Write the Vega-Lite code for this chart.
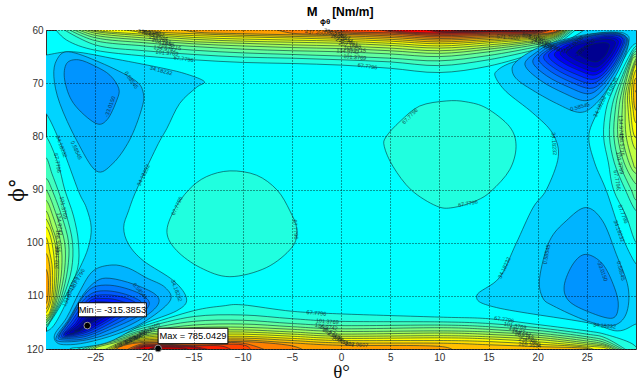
{"$schema":"https://vega.github.io/schema/vega-lite/v6.json","width":590,"height":319,"autosize":"none","padding":{"left":46,"top":30,"right":4,"bottom":33},"background":"white","config":{"view":{"stroke":"#333","fill":"#00ffff"}},
"datasets":{"strips":[
{"c":"T12","t":-29.4,"p":59},{"c":"T12","t":-27.9,"p":61.9},{"c":"T12","t":-25,"p":63.8},{"c":"T12","t":-20,"p":64.9},{"c":"T12","t":-15,"p":65.6},{"c":"T12","t":-10,"p":66.1},{"c":"T12","t":-5,"p":66.3},{"c":"T12","t":0,"p":66.6},{"c":"T12","t":5,"p":67.2},{"c":"T12","t":10,"p":68},{"c":"T12","t":15,"p":66.8},{"c":"T12","t":20,"p":64.2},{"c":"T12","t":22,"p":62.6},{"c":"T12","t":24.5,"p":59},
{"c":"T13","t":-29,"p":59},{"c":"T13","t":-25,"p":62.8},{"c":"T13","t":-20,"p":63.9},{"c":"T13","t":-15,"p":64.6},{"c":"T13","t":-10,"p":65.1},{"c":"T13","t":-5,"p":65.3},{"c":"T13","t":0,"p":65.6},{"c":"T13","t":5,"p":66},{"c":"T13","t":10,"p":66.7},{"c":"T13","t":15,"p":65.6},{"c":"T13","t":20,"p":63.6},{"c":"T13","t":22,"p":62.2},{"c":"T13","t":24.2,"p":59},
{"c":"T14","t":-28.6,"p":59},{"c":"T14","t":-25,"p":62},{"c":"T14","t":-20,"p":63},{"c":"T14","t":-15,"p":63.8},{"c":"T14","t":-10,"p":64.3},{"c":"T14","t":-5,"p":64.6},{"c":"T14","t":0,"p":64.9},{"c":"T14","t":5,"p":65.3},{"c":"T14","t":10,"p":65.8},{"c":"T14","t":15,"p":64.8},{"c":"T14","t":20,"p":63.1},{"c":"T14","t":22,"p":61.9},{"c":"T14","t":24,"p":59},
{"c":"T15","t":-28.2,"p":59},{"c":"T15","t":-25,"p":61.45},{"c":"T15","t":-20,"p":62.4},{"c":"T15","t":-15,"p":63.1},{"c":"T15","t":-10,"p":63.6},{"c":"T15","t":-5,"p":63.9},{"c":"T15","t":0,"p":64.1},{"c":"T15","t":5,"p":64.5},{"c":"T15","t":10,"p":65},{"c":"T15","t":15,"p":64.1},{"c":"T15","t":20,"p":62.7},{"c":"T15","t":22,"p":61.6},{"c":"T15","t":23.8,"p":59},
{"c":"T16","t":-27.8,"p":59},{"c":"T16","t":-25,"p":61},{"c":"T16","t":-20,"p":61.9},{"c":"T16","t":-15,"p":62.6},{"c":"T16","t":-10,"p":63},{"c":"T16","t":-5,"p":63.3},{"c":"T16","t":0,"p":63.5},{"c":"T16","t":5,"p":63.9},{"c":"T16","t":10,"p":64.4},{"c":"T16","t":15,"p":63.6},{"c":"T16","t":20,"p":62.4},{"c":"T16","t":22,"p":61.35},{"c":"T16","t":23.7,"p":59},
{"c":"T17","t":-27.4,"p":59},{"c":"T17","t":-25,"p":60.6},{"c":"T17","t":-20,"p":61.5},{"c":"T17","t":-15,"p":62.2},{"c":"T17","t":-10,"p":62.5},{"c":"T17","t":-5,"p":62.8},{"c":"T17","t":0,"p":63},{"c":"T17","t":5,"p":63.4},{"c":"T17","t":10,"p":63.9},{"c":"T17","t":15,"p":63.2},{"c":"T17","t":20,"p":62.1},{"c":"T17","t":22,"p":61.15},{"c":"T17","t":23.6,"p":59},
{"c":"T18","t":-27,"p":59},{"c":"T18","t":-25,"p":60.3},{"c":"T18","t":-20,"p":61.1},{"c":"T18","t":-15,"p":61.75},{"c":"T18","t":-10,"p":62.1},{"c":"T18","t":-5,"p":62.3},{"c":"T18","t":0,"p":62.5},{"c":"T18","t":5,"p":62.9},{"c":"T18","t":10,"p":63.4},{"c":"T18","t":15,"p":62.8},{"c":"T18","t":20,"p":61.9},{"c":"T18","t":22,"p":61},{"c":"T18","t":23.5,"p":59},
{"c":"T19","t":-26.5,"p":59},{"c":"T19","t":-25,"p":60.1},{"c":"T19","t":-20,"p":60.8},{"c":"T19","t":-15,"p":61.4},{"c":"T19","t":-10,"p":61.7},{"c":"T19","t":-5,"p":61.9},{"c":"T19","t":0,"p":62.1},{"c":"T19","t":5,"p":62.5},{"c":"T19","t":10,"p":63},{"c":"T19","t":15,"p":62.4},{"c":"T19","t":20,"p":61.65},{"c":"T19","t":22,"p":60.85},{"c":"T19","t":23.4,"p":59},
{"c":"T20","t":-25,"p":59},{"c":"T20","t":-20,"p":60.5},{"c":"T20","t":-15,"p":61.05},{"c":"T20","t":-10,"p":61.3},{"c":"T20","t":-5,"p":61.5},{"c":"T20","t":0,"p":61.75},{"c":"T20","t":5,"p":62.1},{"c":"T20","t":10,"p":62.6},{"c":"T20","t":15,"p":62.1},{"c":"T20","t":20,"p":61.45},{"c":"T20","t":22,"p":60.7},{"c":"T20","t":23.3,"p":59},
{"c":"T21","t":-22,"p":59},{"c":"T21","t":-20,"p":60.2},{"c":"T21","t":-15,"p":60.7},{"c":"T21","t":-10,"p":61},{"c":"T21","t":-5,"p":61.2},{"c":"T21","t":0,"p":61.4},{"c":"T21","t":5,"p":61.75},{"c":"T21","t":10,"p":62.25},{"c":"T21","t":15,"p":61.8},{"c":"T21","t":20,"p":61.25},{"c":"T21","t":22,"p":60.55},{"c":"T21","t":23.2,"p":59},
{"c":"T22","t":-18,"p":59},{"c":"T22","t":-15,"p":60.35},{"c":"T22","t":-10,"p":60.7},{"c":"T22","t":-5,"p":60.9},{"c":"T22","t":0,"p":61.1},{"c":"T22","t":5,"p":61.4},{"c":"T22","t":10,"p":61.9},{"c":"T22","t":15,"p":61.5},{"c":"T22","t":20,"p":61.05},{"c":"T22","t":22,"p":60.4},{"c":"T22","t":23.1,"p":59},
{"c":"T23","t":-8,"p":59},{"c":"T23","t":-5,"p":60.6},{"c":"T23","t":0,"p":60.8},{"c":"T23","t":5,"p":61.1},{"c":"T23","t":10,"p":61.6},{"c":"T23","t":15,"p":61.25},{"c":"T23","t":20,"p":60.9},{"c":"T23","t":22,"p":60.3},{"c":"T23","t":23,"p":59},
{"c":"T24","t":-4,"p":59},{"c":"T24","t":0,"p":60.5},{"c":"T24","t":5,"p":60.8},{"c":"T24","t":10,"p":61.3},{"c":"T24","t":15,"p":61},{"c":"T24","t":20,"p":60.75},{"c":"T24","t":22,"p":60.2},{"c":"T24","t":22.8,"p":59},
{"c":"T25","t":-1,"p":59},{"c":"T25","t":0,"p":60.25},{"c":"T25","t":5,"p":60.55},{"c":"T25","t":10,"p":61.05},{"c":"T25","t":15,"p":60.8},{"c":"T25","t":20,"p":60.6},{"c":"T25","t":22.5,"p":59},
{"c":"T26","t":2,"p":59},{"c":"T26","t":5,"p":60.3},{"c":"T26","t":10,"p":60.8},{"c":"T26","t":15,"p":60.6},{"c":"T26","t":20,"p":60.45},{"c":"T26","t":22.2,"p":59},
{"c":"T27","t":4,"p":59},{"c":"T27","t":5,"p":60.1},{"c":"T27","t":10,"p":60.6},{"c":"T27","t":15,"p":60.4},{"c":"T27","t":20,"p":60.3},{"c":"T27","t":21.8,"p":59},
{"c":"T28","t":7,"p":59},{"c":"T28","t":10,"p":60.4},{"c":"T28","t":15,"p":60.25},{"c":"T28","t":20,"p":60.2},{"c":"T28","t":21.3,"p":59},
{"c":"T29","t":8.5,"p":59},{"c":"T29","t":10,"p":60.25},{"c":"T29","t":15,"p":60.15},{"c":"T29","t":20,"p":60.1},{"c":"T29","t":20.8,"p":59},
{"c":"T30","t":9.5,"p":59},{"c":"T30","t":12,"p":60.12},{"c":"T30","t":18,"p":60.1},{"c":"T30","t":19.5,"p":59},
{"c":"B12","t":-27.9,"p":121},{"c":"B12","t":-25,"p":118.6},{"c":"B12","t":-22.5,"p":117},{"c":"B12","t":-20,"p":115.6},{"c":"B12","t":-15,"p":112.8},{"c":"B12","t":-12,"p":111.9},{"c":"B12","t":-10,"p":111.7},{"c":"B12","t":-5,"p":112.9},{"c":"B12","t":0,"p":113.4},{"c":"B12","t":10,"p":114},{"c":"B12","t":15,"p":114.3},{"c":"B12","t":20,"p":115.4},{"c":"B12","t":25,"p":116.6},{"c":"B12","t":27,"p":117.3},{"c":"B12","t":29.6,"p":119},{"c":"B12","t":30.5,"p":121},
{"c":"B13","t":-27.3,"p":121},{"c":"B13","t":-25,"p":118.9},{"c":"B13","t":-22.5,"p":117.45},{"c":"B13","t":-20,"p":116},{"c":"B13","t":-15,"p":113.9},{"c":"B13","t":-10,"p":113.6},{"c":"B13","t":-5,"p":114.3},{"c":"B13","t":0,"p":114.8},{"c":"B13","t":10,"p":114.9},{"c":"B13","t":15,"p":115.2},{"c":"B13","t":20,"p":116},{"c":"B13","t":25,"p":117.2},{"c":"B13","t":27,"p":118},{"c":"B13","t":29.7,"p":121},
{"c":"B14","t":-26.8,"p":121},{"c":"B14","t":-25,"p":119.1},{"c":"B14","t":-22.5,"p":117.8},{"c":"B14","t":-20,"p":116.4},{"c":"B14","t":-15,"p":114.8},{"c":"B14","t":-10,"p":114.6},{"c":"B14","t":-5,"p":115.2},{"c":"B14","t":0,"p":115.6},{"c":"B14","t":10,"p":115.5},{"c":"B14","t":15,"p":115.8},{"c":"B14","t":20,"p":116.5},{"c":"B14","t":25,"p":117.7},{"c":"B14","t":27,"p":118.5},{"c":"B14","t":29.5,"p":121},
{"c":"B15","t":-26.3,"p":121},{"c":"B15","t":-25,"p":119.3},{"c":"B15","t":-22.5,"p":118.1},{"c":"B15","t":-20,"p":116.7},{"c":"B15","t":-15,"p":115.5},{"c":"B15","t":-10,"p":115.3},{"c":"B15","t":-5,"p":115.8},{"c":"B15","t":0,"p":116.2},{"c":"B15","t":10,"p":116},{"c":"B15","t":15,"p":116.3},{"c":"B15","t":20,"p":117},{"c":"B15","t":25,"p":118.1},{"c":"B15","t":27,"p":118.9},{"c":"B15","t":29.3,"p":121},
{"c":"B16","t":-25.8,"p":121},{"c":"B16","t":-25,"p":119.55},{"c":"B16","t":-22.5,"p":118.35},{"c":"B16","t":-20,"p":117},{"c":"B16","t":-15,"p":116},{"c":"B16","t":-10,"p":115.9},{"c":"B16","t":-5,"p":116.3},{"c":"B16","t":0,"p":116.7},{"c":"B16","t":10,"p":116.6},{"c":"B16","t":15,"p":116.8},{"c":"B16","t":20,"p":117.4},{"c":"B16","t":25,"p":118.5},{"c":"B16","t":27,"p":119.2},{"c":"B16","t":29,"p":121},
{"c":"B17","t":-25.3,"p":121},{"c":"B17","t":-25,"p":119.8},{"c":"B17","t":-22.5,"p":118.6},{"c":"B17","t":-20,"p":117.3},{"c":"B17","t":-15,"p":116.6},{"c":"B17","t":-10,"p":116.4},{"c":"B17","t":-5,"p":116.8},{"c":"B17","t":0,"p":117.2},{"c":"B17","t":10,"p":117},{"c":"B17","t":15,"p":117.25},{"c":"B17","t":20,"p":117.8},{"c":"B17","t":25,"p":118.85},{"c":"B17","t":27,"p":119.4},{"c":"B17","t":28.6,"p":121},
{"c":"B18","t":-24.9,"p":121},{"c":"B18","t":-22.5,"p":118.8},{"c":"B18","t":-20,"p":117.55},{"c":"B18","t":-15,"p":116.9},{"c":"B18","t":-10,"p":116.8},{"c":"B18","t":-5,"p":117.2},{"c":"B18","t":0,"p":117.6},{"c":"B18","t":10,"p":117.5},{"c":"B18","t":15,"p":117.7},{"c":"B18","t":20,"p":118.2},{"c":"B18","t":25,"p":119.15},{"c":"B18","t":27,"p":119.6},{"c":"B18","t":28,"p":121},
{"c":"B19","t":-24.5,"p":121},{"c":"B19","t":-22.5,"p":119},{"c":"B19","t":-20,"p":117.8},{"c":"B19","t":-15,"p":117.3},{"c":"B19","t":-10,"p":117.2},{"c":"B19","t":-5,"p":117.6},{"c":"B19","t":0,"p":118},{"c":"B19","t":10,"p":117.9},{"c":"B19","t":15,"p":118.1},{"c":"B19","t":20,"p":118.65},{"c":"B19","t":25,"p":119.45},{"c":"B19","t":27,"p":119.85},{"c":"B19","t":27.2,"p":121},
{"c":"B20","t":-24.1,"p":121},{"c":"B20","t":-22.5,"p":119.15},{"c":"B20","t":-20,"p":118.05},{"c":"B20","t":-15,"p":117.7},{"c":"B20","t":-10,"p":117.6},{"c":"B20","t":-5,"p":118},{"c":"B20","t":0,"p":118.4},{"c":"B20","t":10,"p":118.4},{"c":"B20","t":15,"p":118.6},{"c":"B20","t":20,"p":119.1},{"c":"B20","t":25,"p":119.7},{"c":"B20","t":26.3,"p":121},
{"c":"B21","t":-23.7,"p":121},{"c":"B21","t":-22.5,"p":119.3},{"c":"B21","t":-20,"p":118.3},{"c":"B21","t":-15,"p":118.1},{"c":"B21","t":-10,"p":117.95},{"c":"B21","t":-5,"p":118.4},{"c":"B21","t":0,"p":118.85},{"c":"B21","t":10,"p":118.9},{"c":"B21","t":15,"p":119.2},{"c":"B21","t":20,"p":119.55},{"c":"B21","t":25,"p":119.9},{"c":"B21","t":25.5,"p":121},
{"c":"B22","t":-23.3,"p":121},{"c":"B22","t":-22.5,"p":119.45},{"c":"B22","t":-20,"p":118.55},{"c":"B22","t":-15,"p":118.4},{"c":"B22","t":-10,"p":118.3},{"c":"B22","t":-5,"p":118.85},{"c":"B22","t":0,"p":119.3},{"c":"B22","t":10,"p":119.5},{"c":"B22","t":11.5,"p":121},
{"c":"B23","t":-22.9,"p":121},{"c":"B23","t":-22.5,"p":119.6},{"c":"B23","t":-20,"p":118.75},{"c":"B23","t":-15,"p":118.8},{"c":"B23","t":-10,"p":118.6},{"c":"B23","t":-5,"p":119.4},{"c":"B23","t":-3.2,"p":121},
{"c":"B24","t":-22.5,"p":121},{"c":"B24","t":-20,"p":118.95},{"c":"B24","t":-15,"p":119},{"c":"B24","t":-10,"p":118.9},{"c":"B24","t":-6.7,"p":121},
{"c":"B25","t":-22.1,"p":121},{"c":"B25","t":-20,"p":119.15},{"c":"B25","t":-15,"p":119.3},{"c":"B25","t":-10,"p":119.2},{"c":"B25","t":-9,"p":121},
{"c":"B26","t":-21.7,"p":121},{"c":"B26","t":-20,"p":119.3},{"c":"B26","t":-15,"p":119.4},{"c":"B26","t":-12,"p":119.5},{"c":"B26","t":-10.5,"p":121},
{"c":"B27","t":-21.3,"p":121},{"c":"B27","t":-20,"p":119.45},{"c":"B27","t":-15,"p":119.55},{"c":"B27","t":-12,"p":121},
{"c":"B28","t":-20.8,"p":121},{"c":"B28","t":-20,"p":119.6},{"c":"B28","t":-15,"p":119.7},{"c":"B28","t":-13.2,"p":121},
{"c":"B29","t":-20.3,"p":121},{"c":"B29","t":-19,"p":119.75},{"c":"B29","t":-16,"p":119.8},{"c":"B29","t":-15,"p":121},
{"c":"B30","t":-19.8,"p":121},{"c":"B30","t":-19,"p":119.85},{"c":"B30","t":-16.5,"p":121},
{"c":"L12","t":-31,"p":80},{"c":"L12","t":-30,"p":80},{"c":"L12","t":-28.8,"p":85},{"c":"L12","t":-28.1,"p":90},{"c":"L12","t":-27.2,"p":95},{"c":"L12","t":-26.7,"p":100},{"c":"L12","t":-26.8,"p":105},{"c":"L12","t":-28,"p":110},{"c":"L12","t":-28.9,"p":113},{"c":"L12","t":-29.6,"p":115},{"c":"L12","t":-30,"p":116},{"c":"L12","t":-31,"p":116},
{"c":"L13","t":-31,"p":84},{"c":"L13","t":-30,"p":84},{"c":"L13","t":-29.4,"p":87},{"c":"L13","t":-28.8,"p":90},{"c":"L13","t":-27.9,"p":95},{"c":"L13","t":-27.3,"p":100},{"c":"L13","t":-27.4,"p":105},{"c":"L13","t":-28.2,"p":110},{"c":"L13","t":-29,"p":113},{"c":"L13","t":-29.65,"p":115},{"c":"L13","t":-30,"p":115.7},{"c":"L13","t":-31,"p":115.7},
{"c":"L14","t":-31,"p":87.9},{"c":"L14","t":-30,"p":87.9},{"c":"L14","t":-29.4,"p":90},{"c":"L14","t":-28.4,"p":95},{"c":"L14","t":-27.7,"p":100},{"c":"L14","t":-27.8,"p":105},{"c":"L14","t":-28.4,"p":110},{"c":"L14","t":-29.1,"p":113},{"c":"L14","t":-29.7,"p":115},{"c":"L14","t":-30,"p":115.4},{"c":"L14","t":-31,"p":115.4},
{"c":"L15","t":-31,"p":90},{"c":"L15","t":-30,"p":90},{"c":"L15","t":-28.9,"p":95},{"c":"L15","t":-28.1,"p":100},{"c":"L15","t":-28.1,"p":105},{"c":"L15","t":-28.6,"p":110},{"c":"L15","t":-29.2,"p":113},{"c":"L15","t":-30,"p":115.1},{"c":"L15","t":-31,"p":115.1},
{"c":"L16","t":-31,"p":92},{"c":"L16","t":-30,"p":92},{"c":"L16","t":-29.3,"p":95},{"c":"L16","t":-28.5,"p":100},{"c":"L16","t":-28.4,"p":105},{"c":"L16","t":-28.8,"p":110},{"c":"L16","t":-29.3,"p":113},{"c":"L16","t":-30,"p":114.8},{"c":"L16","t":-31,"p":114.8},
{"c":"L17","t":-31,"p":94},{"c":"L17","t":-30,"p":94},{"c":"L17","t":-29.4,"p":97},{"c":"L17","t":-28.9,"p":100},{"c":"L17","t":-28.7,"p":105},{"c":"L17","t":-28.95,"p":110},{"c":"L17","t":-29.4,"p":113},{"c":"L17","t":-30,"p":114.5},{"c":"L17","t":-31,"p":114.5},
{"c":"L18","t":-31,"p":95.5},{"c":"L18","t":-30,"p":95.5},{"c":"L18","t":-29.1,"p":100},{"c":"L18","t":-28.9,"p":105},{"c":"L18","t":-29.1,"p":110},{"c":"L18","t":-29.5,"p":113},{"c":"L18","t":-30,"p":114.1},{"c":"L18","t":-31,"p":114.1},
{"c":"L19","t":-31,"p":97},{"c":"L19","t":-30,"p":97},{"c":"L19","t":-29.4,"p":100},{"c":"L19","t":-29.1,"p":105},{"c":"L19","t":-29.25,"p":110},{"c":"L19","t":-29.6,"p":113},{"c":"L19","t":-30,"p":113.7},{"c":"L19","t":-31,"p":113.7},
{"c":"L20","t":-31,"p":99},{"c":"L20","t":-30,"p":99},{"c":"L20","t":-29.6,"p":102},{"c":"L20","t":-29.35,"p":105},{"c":"L20","t":-29.4,"p":110},{"c":"L20","t":-30,"p":113.2},{"c":"L20","t":-31,"p":113.2},
{"c":"L21","t":-31,"p":102},{"c":"L21","t":-30,"p":102},{"c":"L21","t":-29.6,"p":105},{"c":"L21","t":-29.6,"p":110},{"c":"L21","t":-30,"p":112.5},{"c":"L21","t":-31,"p":112.5},
{"c":"L22","t":-31,"p":105},{"c":"L22","t":-30,"p":105},{"c":"L22","t":-29.75,"p":108},{"c":"L22","t":-30,"p":111.5},{"c":"L22","t":-31,"p":111.5},
{"c":"R12","t":31,"p":63},{"c":"R12","t":30,"p":63},{"c":"R12","t":29.1,"p":65.65},{"c":"R12","t":27.65,"p":71.3},{"c":"R12","t":26.95,"p":75},{"c":"R12","t":26.7,"p":80},{"c":"R12","t":27.2,"p":85},{"c":"R12","t":27.7,"p":90},{"c":"R12","t":29,"p":95},{"c":"R12","t":30,"p":100},{"c":"R12","t":31,"p":100},
{"c":"R13","t":31,"p":63.5},{"c":"R13","t":30,"p":63.5},{"c":"R13","t":29.3,"p":65.65},{"c":"R13","t":28.05,"p":71.3},{"c":"R13","t":27.5,"p":75},{"c":"R13","t":27.3,"p":80},{"c":"R13","t":27.8,"p":85},{"c":"R13","t":28.9,"p":90},{"c":"R13","t":30,"p":94},{"c":"R13","t":31,"p":94},
{"c":"R14","t":31,"p":64},{"c":"R14","t":30,"p":64},{"c":"R14","t":29.4,"p":65.65},{"c":"R14","t":28.3,"p":71.3},{"c":"R14","t":27.9,"p":75},{"c":"R14","t":27.75,"p":80},{"c":"R14","t":28.3,"p":85},{"c":"R14","t":29.5,"p":90},{"c":"R14","t":30,"p":92},{"c":"R14","t":31,"p":92},
{"c":"R15","t":31,"p":64.5},{"c":"R15","t":30,"p":64.5},{"c":"R15","t":29.5,"p":65.65},{"c":"R15","t":28.6,"p":71.3},{"c":"R15","t":28.25,"p":75},{"c":"R15","t":28.15,"p":80},{"c":"R15","t":28.8,"p":85},{"c":"R15","t":30,"p":89},{"c":"R15","t":31,"p":89},
{"c":"R16","t":31,"p":65},{"c":"R16","t":30,"p":65},{"c":"R16","t":29.55,"p":65.9},{"c":"R16","t":28.8,"p":71.3},{"c":"R16","t":28.6,"p":75},{"c":"R16","t":28.6,"p":80},{"c":"R16","t":29.3,"p":85},{"c":"R16","t":30,"p":87},{"c":"R16","t":31,"p":87},
{"c":"R17","t":31,"p":65.4},{"c":"R17","t":30,"p":65.4},{"c":"R17","t":29,"p":71.3},{"c":"R17","t":28.9,"p":75},{"c":"R17","t":29,"p":80},{"c":"R17","t":29.7,"p":85},{"c":"R17","t":30,"p":86},{"c":"R17","t":31,"p":86},
{"c":"R18","t":31,"p":65.8},{"c":"R18","t":30,"p":65.8},{"c":"R18","t":29.2,"p":71.3},{"c":"R18","t":29.2,"p":75},{"c":"R18","t":29.5,"p":80},{"c":"R18","t":30,"p":82.5},{"c":"R18","t":31,"p":82.5},
{"c":"R19","t":31,"p":66.3},{"c":"R19","t":30,"p":66.3},{"c":"R19","t":29.35,"p":71.3},{"c":"R19","t":29.45,"p":75},{"c":"R19","t":29.85,"p":80},{"c":"R19","t":31,"p":80.5},
{"c":"R20","t":31,"p":67.5},{"c":"R20","t":30,"p":67.5},{"c":"R20","t":29.55,"p":71.3},{"c":"R20","t":29.7,"p":75},{"c":"R20","t":30,"p":77.5},{"c":"R20","t":31,"p":77.5},
{"c":"R21","t":31,"p":69},{"c":"R21","t":30,"p":69},{"c":"R21","t":29.75,"p":71.3},{"c":"R21","t":29.95,"p":75},{"c":"R21","t":31,"p":75.5},
{"c":"R22","t":31,"p":70.5},{"c":"R22","t":29.95,"p":71.5},{"c":"R22","t":31,"p":73},
{"c":"SR","t":25,"p":59},{"c":"SR","t":24.5,"p":60.3},{"c":"SR","t":22,"p":62.9},{"c":"SR","t":19.5,"p":64.9},{"c":"SR","t":17.1,"p":66.3},{"c":"SR","t":15.9,"p":67.6},{"c":"SR","t":15.7,"p":68.8},{"c":"SR","t":16.8,"p":71.6},{"c":"SR","t":19.5,"p":75.6},{"c":"SR","t":21.5,"p":79.4},{"c":"SR","t":22.1,"p":83.8},{"c":"SR","t":20.9,"p":90},{"c":"SR","t":19.5,"p":93.5},{"c":"SR","t":17.8,"p":100.2},{"c":"SR","t":16.1,"p":106.6},{"c":"SR","t":13.8,"p":110},{"c":"SR","t":15.8,"p":112.2},{"c":"SR","t":24.9,"p":115},{"c":"SR","t":28.1,"p":116.6},{"c":"SR","t":30,"p":115.3},{"c":"SR","t":31,"p":115},{"c":"SR","t":31,"p":104.5},{"c":"SR","t":30,"p":104},{"c":"SR","t":28.5,"p":98.4},{"c":"SR","t":27,"p":90.3},{"c":"SR","t":25.8,"p":85},{"c":"SR","t":25.2,"p":80},{"c":"SR","t":26,"p":75.7},{"c":"SR","t":27.1,"p":71.3},{"c":"SR","t":28.7,"p":65.65},{"c":"SR","t":29.8,"p":62.7},{"c":"SR","t":31,"p":62.3},{"c":"SR","t":31,"p":59},
{"c":"SL","t":-31,"p":64.7},{"c":"SL","t":-30,"p":64.7},{"c":"SL","t":-27.2,"p":64.1},{"c":"SL","t":-22.8,"p":65.5},{"c":"SL","t":-18.1,"p":67.2},{"c":"SL","t":-15.7,"p":68.3},{"c":"SL","t":-13.9,"p":69.7},{"c":"SL","t":-14.7,"p":70.8},{"c":"SL","t":-16.4,"p":73.8},{"c":"SL","t":-17.7,"p":78.5},{"c":"SL","t":-18.75,"p":82},{"c":"SL","t":-20.8,"p":90.1},{"c":"SL","t":-21.6,"p":94},{"c":"SL","t":-22.1,"p":97.15},{"c":"SL","t":-21.6,"p":100.3},{"c":"SL","t":-20.1,"p":103.4},{"c":"SL","t":-17,"p":107.2},{"c":"SL","t":-15.7,"p":110.6},{"c":"SL","t":-16.7,"p":112.8},{"c":"SL","t":-20.1,"p":115.3},{"c":"SL","t":-23.5,"p":118.6},{"c":"SL","t":-26,"p":119.6},{"c":"SL","t":-27.5,"p":119.9},{"c":"SL","t":-28,"p":121},{"c":"SL","t":-31,"p":121},{"c":"SL","t":-31,"p":116.7},{"c":"SL","t":-30,"p":116.7},{"c":"SL","t":-29.1,"p":115.3},{"c":"SL","t":-27.9,"p":111},{"c":"SL","t":-27.6,"p":108.4},{"c":"SL","t":-26.55,"p":104.7},{"c":"SL","t":-25.7,"p":100.9},{"c":"SL","t":-25.4,"p":97.15},{"c":"SL","t":-25.9,"p":93.4},{"c":"SL","t":-26.7,"p":90.3},{"c":"SL","t":-28.4,"p":81.9},{"c":"SL","t":-30,"p":75.7},{"c":"SL","t":-31,"p":75.7}
],"basins":[
{"c":"I1","t":-15.5,"p":90.1},{"c":"I1","t":-13.7,"p":87.6},{"c":"I1","t":-11.3,"p":86.5},{"c":"I1","t":-8.6,"p":87.3},{"c":"I1","t":-6.5,"p":90.1},{"c":"I1","t":-5.2,"p":94},{"c":"I1","t":-4.5,"p":97.5},{"c":"I1","t":-5,"p":100.9},{"c":"I1","t":-7.6,"p":104.7},{"c":"I1","t":-11.3,"p":106.4},{"c":"I1","t":-14.3,"p":104.7},{"c":"I1","t":-16.7,"p":101.5},{"c":"I1","t":-17.7,"p":98.1},{"c":"I1","t":-17,"p":94},
{"c":"I2","t":10.7,"p":73.35},{"c":"I2","t":8,"p":74.3},{"c":"I2","t":6,"p":77.2},{"c":"I2","t":4.6,"p":80.05},{"c":"I2","t":4.4,"p":81.9},{"c":"I2","t":5.3,"p":85.7},{"c":"I2","t":7.15,"p":90.1},{"c":"I2","t":9.7,"p":93.1},{"c":"I2","t":11.4,"p":93.4},{"c":"I2","t":13.75,"p":92.1},{"c":"I2","t":15.3,"p":90.26},{"c":"I2","t":17.15,"p":86.3},{"c":"I2","t":17.8,"p":81.9},{"c":"I2","t":17.15,"p":78.2},{"c":"I2","t":14.8,"p":74.7},{"c":"I2","t":12.7,"p":73.5},
{"c":"A10","t":17.4,"p":67.5},{"c":"A10","t":17.8,"p":69.1},{"c":"A10","t":19.2,"p":71},{"c":"A10","t":21.9,"p":73.8},{"c":"A10","t":24.3,"p":75.5},{"c":"A10","t":25.95,"p":73.8},{"c":"A10","t":27.6,"p":69.7},{"c":"A10","t":28.8,"p":65.3},{"c":"A10","t":29.3,"p":61.9},{"c":"A10","t":29,"p":60.8},{"c":"A10","t":28,"p":60.4},{"c":"A10","t":25.3,"p":60.75},{"c":"A10","t":22.9,"p":61.7},{"c":"A10","t":20.5,"p":62.95},{"c":"A10","t":18.7,"p":64.7},{"c":"A10","t":17.65,"p":66.3},
{"c":"A9","t":18.7,"p":66.5},{"c":"A9","t":20.3,"p":69.5},{"c":"A9","t":22.7,"p":71.9},{"c":"A9","t":24.8,"p":73.3},{"c":"A9","t":26.3,"p":71.9},{"c":"A9","t":27.7,"p":68.4},{"c":"A9","t":28.8,"p":64.6},{"c":"A9","t":29.2,"p":61.8},{"c":"A9","t":28,"p":60.5},{"c":"A9","t":25.6,"p":60.75},{"c":"A9","t":21.4,"p":62.7},{"c":"A9","t":19.9,"p":64.15},
{"c":"A8","t":19.5,"p":66},{"c":"A8","t":20.9,"p":68.6},{"c":"A8","t":23.1,"p":70.7},{"c":"A8","t":25.1,"p":72},{"c":"A8","t":26.4,"p":70.7},{"c":"A8","t":27.7,"p":67.7},{"c":"A8","t":28.7,"p":64.25},{"c":"A8","t":29.1,"p":61.7},{"c":"A8","t":28.05,"p":60.6},{"c":"A8","t":25.8,"p":60.85},{"c":"A8","t":22,"p":62.5},{"c":"A8","t":20.55,"p":63.85},
{"c":"A7","t":20.1,"p":65.5},{"c":"A7","t":21.4,"p":67.9},{"c":"A7","t":23.5,"p":69.9},{"c":"A7","t":25.3,"p":71},{"c":"A7","t":26.5,"p":69.9},{"c":"A7","t":27.7,"p":67.1},{"c":"A7","t":28.65,"p":64},{"c":"A7","t":29,"p":61.7},{"c":"A7","t":28,"p":60.7},{"c":"A7","t":26,"p":60.9},{"c":"A7","t":22.4,"p":62.45},{"c":"A7","t":21.1,"p":63.65},
{"c":"A6","t":20.6,"p":65.2},{"c":"A6","t":21.8,"p":67.3},{"c":"A6","t":23.7,"p":69.1},{"c":"A6","t":25.4,"p":70.1},{"c":"A6","t":26.5,"p":69.1},{"c":"A6","t":27.7,"p":66.6},{"c":"A6","t":28.5,"p":63.8},{"c":"A6","t":28.85,"p":61.8},{"c":"A6","t":27.9,"p":60.85},{"c":"A6","t":26,"p":61},{"c":"A6","t":22.7,"p":62.4},{"c":"A6","t":21.5,"p":63.5},
{"c":"A5","t":21.1,"p":64.9},{"c":"A5","t":22.2,"p":66.8},{"c":"A5","t":24,"p":68.4},{"c":"A5","t":25.5,"p":69.3},{"c":"A5","t":26.6,"p":68.4},{"c":"A5","t":27.6,"p":66.1},{"c":"A5","t":28.4,"p":63.7},{"c":"A5","t":28.7,"p":61.8},{"c":"A5","t":27.9,"p":61},{"c":"A5","t":26.1,"p":61.2},{"c":"A5","t":23.1,"p":62.4},{"c":"A5","t":21.9,"p":63.4},
{"c":"A4","t":21.7,"p":64.7},{"c":"A4","t":22.7,"p":66.3},{"c":"A4","t":24.3,"p":67.7},{"c":"A4","t":25.6,"p":68.5},{"c":"A4","t":26.6,"p":67.7},{"c":"A4","t":27.5,"p":65.7},{"c":"A4","t":28.2,"p":63.6},{"c":"A4","t":28.5,"p":62},{"c":"A4","t":27.75,"p":61.25},{"c":"A4","t":26.2,"p":61.4},{"c":"A4","t":23.5,"p":62.5},{"c":"A4","t":22.45,"p":63.3},
{"c":"A3","t":22.3,"p":64.5},{"c":"A3","t":23.2,"p":65.9},{"c":"A3","t":24.5,"p":67.1},{"c":"A3","t":25.7,"p":67.8},{"c":"A3","t":26.5,"p":67.1},{"c":"A3","t":27.35,"p":65.4},{"c":"A3","t":27.95,"p":63.5},{"c":"A3","t":28.2,"p":62.1},{"c":"A3","t":27.55,"p":61.5},{"c":"A3","t":26.2,"p":61.65},{"c":"A3","t":23.8,"p":62.6},{"c":"A3","t":22.95,"p":63.3},
{"c":"A2","t":22.9,"p":64.3},{"c":"A2","t":23.65,"p":65.4},{"c":"A2","t":24.8,"p":66.4},{"c":"A2","t":25.8,"p":67},{"c":"A2","t":26.5,"p":66.4},{"c":"A2","t":27.2,"p":65},{"c":"A2","t":27.7,"p":63.5},{"c":"A2","t":27.9,"p":62.3},{"c":"A2","t":27.35,"p":61.8},{"c":"A2","t":26.2,"p":61.9},{"c":"A2","t":24.2,"p":62.7},{"c":"A2","t":23.45,"p":63.3},
{"c":"A1","t":24,"p":64.2},{"c":"A1","t":24.5,"p":65},{"c":"A1","t":25.2,"p":65.7},{"c":"A1","t":25.9,"p":66},{"c":"A1","t":26.4,"p":65.6},{"c":"A1","t":26.9,"p":64.7},{"c":"A1","t":27.2,"p":63.6},{"c":"A1","t":27.3,"p":62.8},{"c":"A1","t":26.9,"p":62.4},{"c":"A1","t":26,"p":62.5},{"c":"A1","t":25,"p":63},{"c":"A1","t":24.4,"p":63.5},
{"c":"U10","t":-27.7,"p":64.1},{"c":"U10","t":-28.9,"p":65.6},{"c":"U10","t":-29.2,"p":68.8},{"c":"U10","t":-28.6,"p":73.8},{"c":"U10","t":-26.9,"p":80.7},{"c":"U10","t":-24.9,"p":86.5},{"c":"U10","t":-23.2,"p":85.1},{"c":"U10","t":-21.5,"p":80.7},{"c":"U10","t":-20.3,"p":75},{"c":"U10","t":-20.1,"p":71.9},{"c":"U10","t":-21,"p":69.4},{"c":"U10","t":-24.5,"p":66.1},
{"c":"U9","t":-26.7,"p":65.6},{"c":"U9","t":-27.9,"p":66.3},{"c":"U9","t":-28.1,"p":69.4},{"c":"U9","t":-27.2,"p":73.8},{"c":"U9","t":-25,"p":77.5},{"c":"U9","t":-23.8,"p":76.9},{"c":"U9","t":-22.8,"p":73.2},{"c":"U9","t":-22.6,"p":71},{"c":"U9","t":-23.5,"p":68.5},{"c":"U9","t":-25,"p":66.8},
{"c":"V10","t":24.9,"p":93.4},{"c":"V10","t":22.9,"p":95.9},{"c":"V10","t":21.2,"p":99.7},{"c":"V10","t":20.2,"p":106.6},{"c":"V10","t":20.5,"p":110.3},{"c":"V10","t":21.6,"p":111.9},{"c":"V10","t":25,"p":114.7},{"c":"V10","t":27.6,"p":115.6},{"c":"V10","t":29,"p":113.4},{"c":"V10","t":29.2,"p":108.4},{"c":"V10","t":28,"p":102.2},{"c":"V10","t":26.6,"p":95.9},
{"c":"V9","t":24.9,"p":102.2},{"c":"V9","t":23.6,"p":104},{"c":"V9","t":22.7,"p":108.1},{"c":"V9","t":23.2,"p":111},{"c":"V9","t":25.3,"p":113.1},{"c":"V9","t":27.6,"p":114.2},{"c":"V9","t":28.2,"p":111.9},{"c":"V9","t":27.8,"p":108.4},{"c":"V9","t":26.6,"p":104},
{"c":"W10","t":-23.3,"p":104.2},{"c":"W10","t":-25.2,"p":105.3},{"c":"W10","t":-26.55,"p":109.1},{"c":"W10","t":-27.9,"p":114.1},{"c":"W10","t":-29.1,"p":117.2},{"c":"W10","t":-28.9,"p":118.8},{"c":"W10","t":-27.9,"p":119.2},{"c":"W10","t":-25.9,"p":118.8},{"c":"W10","t":-22.8,"p":117.2},{"c":"W10","t":-20.1,"p":115},{"c":"W10","t":-17.4,"p":111},{"c":"W10","t":-17.9,"p":108.4},{"c":"W10","t":-19.8,"p":106.6},{"c":"W10","t":-21.6,"p":104.8},
{"c":"W9","t":-23.5,"p":106.7},{"c":"W9","t":-24.85,"p":107.2},{"c":"W9","t":-26.2,"p":109.7},{"c":"W9","t":-27.7,"p":114.4},{"c":"W9","t":-28.9,"p":117.5},{"c":"W9","t":-28.6,"p":118.6},{"c":"W9","t":-25.9,"p":118.3},{"c":"W9","t":-22.8,"p":116.6},{"c":"W9","t":-20.1,"p":114.1},{"c":"W9","t":-18.6,"p":111.6},{"c":"W9","t":-18.9,"p":109.7},{"c":"W9","t":-21.1,"p":107.8},
{"c":"W8","t":-23.5,"p":108},{"c":"W8","t":-25.2,"p":108.4},{"c":"W8","t":-26.4,"p":110.6},{"c":"W8","t":-27.7,"p":114.7},{"c":"W8","t":-28.75,"p":117.6},{"c":"W8","t":-28.2,"p":118.3},{"c":"W8","t":-25.9,"p":118},{"c":"W8","t":-23.2,"p":116.1},{"c":"W8","t":-20.6,"p":113.8},{"c":"W8","t":-19.5,"p":111.6},{"c":"W8","t":-20.1,"p":110},{"c":"W8","t":-21.6,"p":108.75},
{"c":"W7","t":-23.8,"p":109.06},{"c":"W7","t":-25.2,"p":109.4},{"c":"W7","t":-26.4,"p":111.25},{"c":"W7","t":-27.6,"p":114.7},{"c":"W7","t":-28.6,"p":117.4},{"c":"W7","t":-28.1,"p":118},{"c":"W7","t":-25.9,"p":117.6},{"c":"W7","t":-23.3,"p":115.6},{"c":"W7","t":-21.1,"p":113.4},{"c":"W7","t":-20.2,"p":111.6},{"c":"W7","t":-20.96,"p":110.4},{"c":"W7","t":-22.3,"p":109.5},
{"c":"W6","t":-24,"p":109.8},{"c":"W6","t":-25.2,"p":110.1},{"c":"W6","t":-26.2,"p":111.6},{"c":"W6","t":-27.4,"p":114.8},{"c":"W6","t":-28.4,"p":117.3},{"c":"W6","t":-27.9,"p":117.8},{"c":"W6","t":-25.8,"p":117.2},{"c":"W6","t":-23.5,"p":115.2},{"c":"W6","t":-21.6,"p":113.1},{"c":"W6","t":-20.8,"p":111.6},{"c":"W6","t":-21.6,"p":110.6},{"c":"W6","t":-22.8,"p":110},
{"c":"W5","t":-24.2,"p":110.5},{"c":"W5","t":-25.2,"p":110.6},{"c":"W5","t":-26,"p":111.9},{"c":"W5","t":-27.2,"p":115},{"c":"W5","t":-28.2,"p":117.2},{"c":"W5","t":-27.7,"p":117.6},{"c":"W5","t":-25.8,"p":116.8},{"c":"W5","t":-23.7,"p":114.8},{"c":"W5","t":-22.1,"p":112.8},{"c":"W5","t":-21.4,"p":111.7},{"c":"W5","t":-22.2,"p":111.1},{"c":"W5","t":-23.2,"p":110.6},
{"c":"W4","t":-24.35,"p":111.1},{"c":"W4","t":-25.1,"p":111.25},{"c":"W4","t":-26,"p":112.3},{"c":"W4","t":-27,"p":115.2},{"c":"W4","t":-28.1,"p":117.1},{"c":"W4","t":-27.6,"p":117.4},{"c":"W4","t":-25.8,"p":116.5},{"c":"W4","t":-23.8,"p":114.45},{"c":"W4","t":-22.55,"p":112.7},{"c":"W4","t":-22.1,"p":111.9},{"c":"W4","t":-22.8,"p":111.4},{"c":"W4","t":-23.6,"p":111.2},
{"c":"W3","t":-24.5,"p":111.9},{"c":"W3","t":-25.1,"p":112},{"c":"W3","t":-25.8,"p":112.8},{"c":"W3","t":-26.9,"p":115.45},{"c":"W3","t":-27.9,"p":117},{"c":"W3","t":-27.4,"p":117.2},{"c":"W3","t":-25.8,"p":116.1},{"c":"W3","t":-24,"p":114.1},{"c":"W3","t":-23,"p":112.7},{"c":"W3","t":-22.75,"p":112.2},{"c":"W3","t":-23.3,"p":111.95},{"c":"W3","t":-23.9,"p":111.9},
{"c":"W2","t":-24.7,"p":112.7},{"c":"W2","t":-25.5,"p":113.3},{"c":"W2","t":-26.7,"p":115.6},{"c":"W2","t":-27.6,"p":116.8},{"c":"W2","t":-27.2,"p":117},{"c":"W2","t":-25.8,"p":115.7},{"c":"W2","t":-24.2,"p":113.8},{"c":"W2","t":-23.4,"p":112.8},{"c":"W2","t":-23.9,"p":112.6},
{"c":"W1","t":-25,"p":113.8},{"c":"W1","t":-25.9,"p":114.4},{"c":"W1","t":-26.6,"p":116},{"c":"W1","t":-27.1,"p":116.6},{"c":"W1","t":-26.55,"p":116.5},{"c":"W1","t":-25.7,"p":115.2},{"c":"W1","t":-24.35,"p":114},{"c":"W1","t":-24.35,"p":113.4}
],"labels":[
{"t":-16,"p":65.4,"s":"67.7796","a":8},{"t":-18.3,"p":67.6,"s":"34.18232","a":15},{"t":-21.3,"p":69.4,"s":"0.58545","a":55},{"t":-23.5,"p":74.4,"s":"-33.0150","a":-70},{"t":-26.9,"p":82.6,"s":"0.58545","a":65},{"t":-28.4,"p":81.9,"s":"34.18232","a":70},{"t":-28.8,"p":85,"s":"67.7796","a":80},{"t":-20.1,"p":87.3,"s":"34.18232","a":-65},
{"t":-17.7,"p":64.3,"s":"101.3769","a":5},{"t":-17.9,"p":63.5,"s":"134.9742","a":8},{"t":-17.4,"p":63,"s":"168.5715","a":12},{"t":-18.1,"p":62.3,"s":"202.1688","a":15},{"t":-18.4,"p":61.75,"s":"235.7661","a":15},{"t":-18.75,"p":61.1,"s":"269.3634","a":15},{"t":-19.1,"p":60.6,"s":"302.9607","a":10},{"t":-19.5,"p":60.4,"s":"336.5580","a":5},
{"t":2.7,"p":66.8,"s":"67.7796","a":8},{"t":1.4,"p":65.1,"s":"101.3769","a":5},{"t":0.7,"p":64,"s":"134.9742","a":5},{"t":1.4,"p":63.6,"s":"168.5715","a":8},{"t":0.9,"p":62.8,"s":"202.1688","a":10},{"t":0.6,"p":62.2,"s":"235.7661","a":15},{"t":0.1,"p":61.6,"s":"269.3634","a":15},{"t":-0.2,"p":61,"s":"302.9607","a":15},{"t":-0.6,"p":60.5,"s":"336.5580","a":15},{"t":-2.5,"p":60.4,"s":"437.3500","a":3},
{"t":17,"p":61.3,"s":"571.7000","a":3},{"t":19.6,"p":61.2,"s":"538.1000","a":10},{"t":20.2,"p":61.8,"s":"504.5000","a":15},{"t":20.8,"p":62.4,"s":"470.9000","a":15},{"t":21.2,"p":63,"s":"437.3500","a":15},{"t":21.7,"p":63.5,"s":"403.7500","a":10},{"t":20.4,"p":62.6,"s":"370.1553","a":15},
{"t":23.6,"p":62.8,"s":"-201.0000","a":-40},{"t":24.8,"p":63.4,"s":"-234.6000","a":-40},{"t":24.3,"p":74.4,"s":"0.58545","a":-15},{"t":26.3,"p":74.4,"s":"34.18232","a":-65},{"t":27.6,"p":70.6,"s":"0.58545","a":-65},
{"t":28.5,"p":78.2,"s":"134.9742","a":88},{"t":28.6,"p":81.5,"s":"168.5715","a":88},{"t":28.4,"p":85,"s":"101.3769","a":80},{"t":28.1,"p":88.2,"s":"67.7796","a":80},{"t":28.7,"p":94.6,"s":"67.7796","a":70},{"t":28.3,"p":97.8,"s":"34.18232","a":70},{"t":28.5,"p":105.3,"s":"0.58545","a":75},{"t":26.6,"p":105.3,"s":"-33.0150","a":70},{"t":20.9,"p":102.2,"s":"0.58545","a":-80},{"t":16.6,"p":104.7,"s":"34.18232","a":-65},{"t":26.8,"p":115.6,"s":"34.18232","a":5},{"t":21.7,"p":81.4,"s":"34.18232","a":85},
{"t":-16.7,"p":93.1,"s":"67.7796","a":-65},{"t":-4.6,"p":97.5,"s":"67.7796","a":85},{"t":7,"p":76.2,"s":"67.7796","a":-45},{"t":12.9,"p":92.6,"s":"67.7796","a":-10},
{"t":-2.5,"p":113.2,"s":"67.7796","a":5},{"t":-1.4,"p":114.8,"s":"101.3769","a":5},{"t":-1.5,"p":115.8,"s":"134.9742","a":10},{"t":-1.1,"p":116.7,"s":"168.5715","a":30},{"t":-0.8,"p":117.3,"s":"202.1688","a":30},{"t":-0.3,"p":118,"s":"235.7661","a":30},{"t":0.2,"p":118.6,"s":"269.3634","a":20},{"t":1.6,"p":119.1,"s":"302.9607","a":5},
{"t":16.6,"p":114.4,"s":"67.7796","a":8},{"t":17.7,"p":115.6,"s":"101.3769","a":10},{"t":18.2,"p":116.6,"s":"134.9742","a":20},{"t":18.5,"p":117.2,"s":"168.5715","a":20},{"t":18.8,"p":117.8,"s":"202.1688","a":20},{"t":19.2,"p":118.6,"s":"235.7661","a":15},{"t":19.2,"p":119.2,"s":"269.3634","a":5},
{"t":-19.5,"p":116.2,"s":"101.3769","a":-25},{"t":-20,"p":117,"s":"168.5715","a":-25},{"t":-20.5,"p":117.4,"s":"235.7661","a":-25},{"t":-21,"p":118,"s":"302.9607","a":-25},{"t":-21.5,"p":118.4,"s":"370.1553","a":-25},{"t":-22,"p":118.7,"s":"437.3500","a":-25},{"t":-16.7,"p":109,"s":"34.18232","a":70},{"t":-20.4,"p":109.1,"s":"0.58545","a":50},
{"t":-28.2,"p":93.4,"s":"101.3769","a":80},{"t":-28.6,"p":96.5,"s":"134.9742","a":85},{"t":-28.75,"p":99.7,"s":"168.5715","a":88},{"t":-28.9,"p":102.8,"s":"202.1688","a":-88},{"t":-26.7,"p":106.6,"s":"67.7796","a":-60},{"t":-27.4,"p":108.4,"s":"101.3769","a":-65},{"t":-27.7,"p":110,"s":"134.9742","a":-65}
],"boxes":[{"x1":-26.7,"x2":-19.8,"y1":111.3,"y2":113.95,"s":"Min = -315.3853","xm":-23.25,"ym":112.65},{"x1":-18.6,"x2":-11.5,"y1":116.1,"y2":119,"s":"Max = 785.0429","xm":-15.05,"ym":117.55}],"pts":[{"t":-25.8,"p":115.6,"k":"Min"},{"t":-18.6,"p":119.9,"k":"Max"}]},
"layer":[
{"data":{"name":"strips"},"mark":{"type":"line","order":false,"clip":true,"interpolate":"cardinal","stroke":"#06303a","strokeWidth":0.7,"strokeOpacity":0.85},
"encoding":{"x":{"field":"t","type":"quantitative","scale":{"domain":[-30,30],"nice":false,"zero":false},"axis":{"values":[-25,-20,-15,-10,-5,0,5,10,15,20,25],"grid":true,"gridColor":"#000","gridDash":[1,2],"gridOpacity":1,"gridWidth":0.8,"ticks":false,"domain":false,"labelFont":"Liberation Sans","labelFontSize":10,"labelColor":"#333","labelPadding":3,"labelFlush":false,"title":"θ°","titleFont":"Liberation Serif","titleFontWeight":"normal","titleFontSize":19,"titleColor":"#111","titlePadding":0,"zindex":1,"format":"d"}},
"y":{"field":"p","type":"quantitative","scale":{"domain":[60,120],"nice":false,"zero":false,"reverse":true},"axis":{"values":[60,70,80,90,100,110,120],"grid":true,"gridColor":"#000","gridDash":[1,2],"gridOpacity":1,"gridWidth":0.8,"ticks":false,"domain":false,"labelFont":"Liberation Sans","labelFontSize":10,"labelColor":"#333","labelPadding":3,"title":"ϕ°","titleFont":"DejaVu Serif","titleFontWeight":"normal","titleFontSize":20,"titleColor":"#111","titlePadding":-1,"zindex":1}},
"detail":{"field":"c","type":"nominal"},
"fill":{"field":"c","type":"nominal","legend":null,"scale":{"domain":["T12","T13","T14","T15","T16","T17","T18","T19","T20","T21","T22","T23","T24","T25","T26","T27","T28","T29","T30","B12","B13","B14","B15","B16","B17","B18","B19","B20","B21","B22","B23","B24","B25","B26","B27","B28","B29","B30","L12","L13","L14","L15","L16","L17","L18","L19","L20","L21","L22","R12","R13","R14","R15","R16","R17","R18","R19","R20","R21","R22","SR","SL"],"range":["#20ffdf","#40ffbf","#60ff9f","#80ff80","#9fff60","#bfff40","#dfff20","#ffff00","#ffdf00","#ffbf00","#ff9f00","#ff8000","#ff6000","#ff4000","#ff2000","#ff0000","#df0000","#bf0000","#9f0000","#20ffdf","#40ffbf","#60ff9f","#80ff80","#9fff60","#bfff40","#dfff20","#ffff00","#ffdf00","#ffbf00","#ff9f00","#ff8000","#ff6000","#ff4000","#ff2000","#ff0000","#df0000","#bf0000","#9f0000","#20ffdf","#40ffbf","#60ff9f","#80ff80","#9fff60","#bfff40","#dfff20","#ffff00","#ffdf00","#ffbf00","#ff9f00","#20ffdf","#40ffbf","#60ff9f","#80ff80","#9fff60","#bfff40","#dfff20","#ffff00","#ffdf00","#ffbf00","#ff9f00","#00d4ff","#00d4ff"]}}}},
{"data":{"name":"basins"},"mark":{"type":"line","order":false,"clip":true,"interpolate":"cardinal-closed","stroke":"#06303a","strokeWidth":0.7,"strokeOpacity":0.85},
"encoding":{"x":{"field":"t","type":"quantitative"},"y":{"field":"p","type":"quantitative"},"detail":{"field":"c","type":"nominal"},
"fill":{"field":"c","type":"nominal","legend":null,"scale":{"domain":["I1","I2","A10","A9","A8","A7","A6","A5","A4","A3","A2","A1","U10","U9","V10","V9","W10","W9","W8","W7","W6","W5","W4","W3","W2","W1"],"range":["#20ffdf","#20ffdf","#00b4ff","#0094ff","#0078ff","#005aff","#003cff","#001eff","#0000f0","#0000d0","#0000b0","#000090","#00b4ff","#0094ff","#00b4ff","#0094ff","#00b4ff","#0094ff","#0078ff","#005aff","#003cff","#001eff","#0000f0","#0000d0","#0000b0","#000090"]}}}},
{"data":{"name":"labels"},"mark":{"type":"text","font":"Liberation Sans","fontSize":5.5,"color":"#10202a","opacity":0.8},"encoding":{"x":{"field":"t","type":"quantitative"},"y":{"field":"p","type":"quantitative"},"text":{"field":"s"},"angle":{"field":"a","type":"quantitative","scale":null}}},
{"data":{"name":"boxes"},"mark":{"type":"rect","fill":"white","stroke":"#000","strokeWidth":1},"encoding":{"x":{"field":"x1","type":"quantitative"},"x2":{"field":"x2"},"y":{"field":"y1","type":"quantitative"},"y2":{"field":"y2"}}},
{"data":{"name":"boxes"},"mark":{"type":"text","font":"Liberation Sans","fontSize":9.3,"color":"#000"},"encoding":{"x":{"field":"xm","type":"quantitative"},"y":{"field":"ym","type":"quantitative"},"text":{"field":"s"}}},
{"data":{"name":"pts"},"mark":{"type":"point","filled":true,"fill":"#000","stroke":"#999","strokeWidth":1,"size":45,"opacity":1},"encoding":{"x":{"field":"t","type":"quantitative"},"y":{"field":"p","type":"quantitative"}}},
{"data":{"values":[{"t":-2.93,"p":57.37,"s":"M"}]},"mark":{"type":"text","font":"Liberation Sans","fontWeight":"bold","fontSize":13,"baseline":"alphabetic","color":"#000"},"encoding":{"x":{"field":"t","type":"quantitative"},"y":{"field":"p","type":"quantitative"},"text":{"field":"s"}}},
{"data":{"values":[{"t":-1.6,"p":58.9,"s":"ϕθ"}]},"mark":{"type":"text","font":"Liberation Sans","fontWeight":"bold","fontSize":8,"baseline":"alphabetic","color":"#000"},"encoding":{"x":{"field":"t","type":"quantitative"},"y":{"field":"p","type":"quantitative"},"text":{"field":"s"}}},
{"data":{"values":[{"t":1.2,"p":57.46,"s":"[Nm/m]"}]},"mark":{"type":"text","font":"Liberation Sans","fontWeight":"bold","fontSize":12,"baseline":"alphabetic","color":"#000"},"encoding":{"x":{"field":"t","type":"quantitative"},"y":{"field":"p","type":"quantitative"},"text":{"field":"s"}}}
],
"resolve":{"scale":{"fill":"independent"}}}
